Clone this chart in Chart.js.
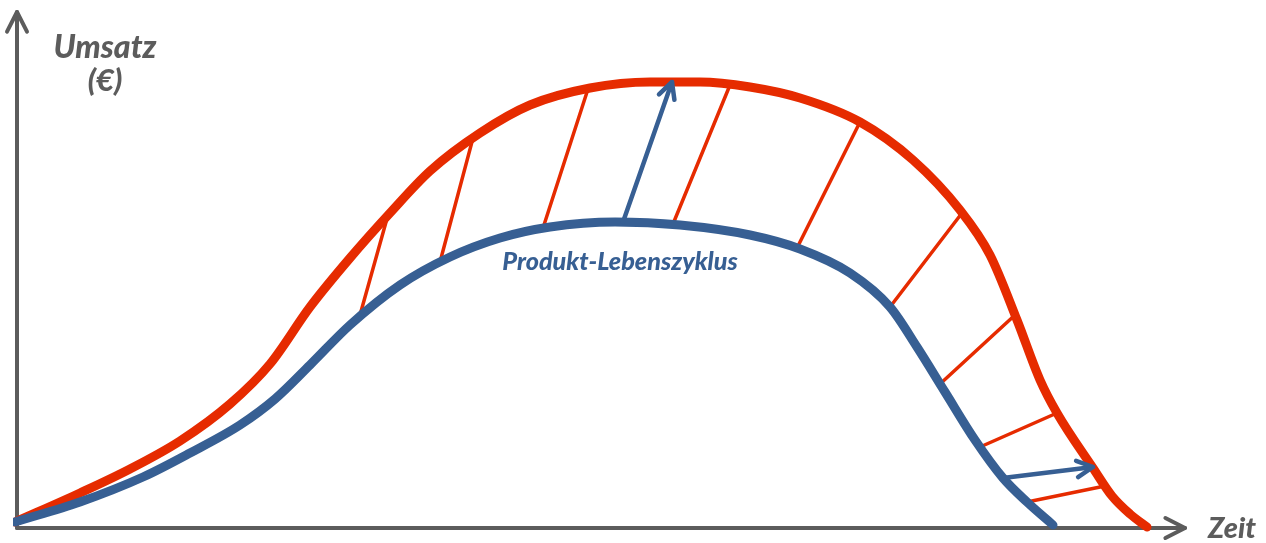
<!DOCTYPE html>
<html>
<head>
<meta charset="utf-8">
<script src="https://cdn.jsdelivr.net/npm/chart.js@4.4.1/dist/chart.umd.min.js"></script>
<style>
  html, body { margin: 0; padding: 0; background: #ffffff; }
  #wrap { width: 1266px; height: 543px; }
</style>
</head>
<body>
<div id="wrap"><canvas id="plc"></canvas></div>
<script>
// Umsatz-Kurven (Zeit, Umsatz)
const redX  = [0, 65, 115, 165, 215, 255, 295, 335, 375, 415, 465, 515, 575, 635, 685, 735, 785, 845, 898, 945, 975, 1002, 1025, 1042, 1078, 1097, 1115, 1132];
const redY  = [1, 30, 54, 82, 119, 159, 216, 265, 310, 352, 390, 418, 435, 441, 441, 436, 425, 401, 363, 313, 268, 203, 143, 110, 55, 27, 9, -4];
const blueX = [0, 65, 128, 175, 225, 260, 295, 335, 385, 435, 485, 535, 600, 665, 735, 785, 835, 875, 902, 930, 960, 988, 1012, 1038];
const blueY = [1, 21, 46, 70, 98, 124, 158, 198, 238, 266, 285, 296, 301, 298, 288, 274, 250, 216, 176, 131, 83, 45, 21, -2];

// Schraffur zwischen den Kurven
const hatchFromX = [345, 425, 528, 658, 782, 875, 925, 965, 1012];
const hatchFromY = [208, 261, 295, 299, 275, 216, 139, 76, 21];
const hatchToX   = [373, 458, 573, 715, 845, 947, 1000, 1042, 1090];
const hatchToY   = [308, 385, 434, 438, 401, 310, 208, 110, 37];

// Pfeile
const arrowFromX = [608, 988];
const arrowFromY = [301, 45];
const arrowToX   = [657, 1078];
const arrowToY   = [441, 56];

// Achsen
const axisOrigin = { x: 2, y: -5 };
const axisTopY = 511;
const axisEndX = 1170;

const RED = "#e62b00";
const BLUE = "#375f93";
const GREY = "#5c5c5c";

function pts(xs, ys) {
    return xs.map((x, i) => ({ x: x, y: ys[i] }));
}

const datasets = [];

datasets.push({
    data: [axisOrigin, { x: axisOrigin.x, y: axisTopY }],
    borderColor: GREY, borderWidth: 4, order: 5, arrowHead: 22, tension: 0
});
datasets.push({
    data: [axisOrigin, { x: axisEndX, y: axisOrigin.y }],
    borderColor: GREY, borderWidth: 4, order: 5, arrowHead: 22, tension: 0
});

hatchFromX.forEach((x, i) => {
    datasets.push({
        data: [{ x: x, y: hatchFromY[i] }, { x: hatchToX[i], y: hatchToY[i] }],
        borderColor: RED, borderWidth: 3.5, order: 4, tension: 0
    });
});

datasets.push({
    label: "Umsatz neu",
    data: pts(redX, redY),
    borderColor: RED, borderWidth: 9, order: 2,
    cubicInterpolationMode: "monotone"
});
datasets.push({
    label: "Produkt-Lebenszyklus",
    data: pts(blueX, blueY),
    borderColor: BLUE, borderWidth: 9, order: 1,
    cubicInterpolationMode: "monotone"
});

arrowFromX.forEach((x, i) => {
    datasets.push({
        data: [{ x: x, y: arrowFromY[i] }, { x: arrowToX[i], y: arrowToY[i] }],
        borderColor: BLUE, borderWidth: 4.5, order: 0, arrowHead: 18, tension: 0
    });
});

const labels = [
    { text: "Umsatz", x: 90, y: 465, size: 32, color: GREY },
    { text: "(€)", x: 90, y: 432, size: 31, color: GREY },
    { text: "Zeit", x: 1217, y: -15, size: 29, color: GREY },
    { text: "Produkt-Lebenszyklus", x: 605, y: 253, width: 236, color: BLUE }
];

const overlay = {
    id: "overlay",
    afterDatasetsDraw(chart) {
        const ctx = chart.ctx;
        ctx.save();
        chart.data.datasets.forEach((ds, i) => {
            if (!ds.arrowHead) return;
            const p = chart.getDatasetMeta(i).data;
            const a = p[p.length - 2], b = p[p.length - 1];
            const ang = Math.atan2(b.y - a.y, b.x - a.x);
            const spread = 27 * Math.PI / 180;
            ctx.strokeStyle = ds.borderColor;
            ctx.lineWidth = ds.borderWidth;
            ctx.lineCap = "round";
            ctx.lineJoin = "round";
            ctx.beginPath();
            ctx.moveTo(b.x - ds.arrowHead * Math.cos(ang - spread), b.y - ds.arrowHead * Math.sin(ang - spread));
            ctx.lineTo(b.x, b.y);
            ctx.lineTo(b.x - ds.arrowHead * Math.cos(ang + spread), b.y - ds.arrowHead * Math.sin(ang + spread));
            ctx.stroke();
        });

        const xs = chart.scales.x, ys = chart.scales.y;
        ctx.textAlign = "center";
        ctx.textBaseline = "alphabetic";
        labels.forEach(l => {
            let size = l.size || 24;
            ctx.font = "italic 900 " + size + "px Lato";
            if (l.width) {
                size = size * l.width / ctx.measureText(l.text).width;
                ctx.font = "italic 900 " + size.toFixed(1) + "px Lato";
            }
            ctx.fillStyle = l.color;
            ctx.fillText(l.text, xs.getPixelForValue(l.x), ys.getPixelForValue(l.y));
        });
        ctx.restore();
    }
};

new Chart(document.getElementById("plc"), {
    type: "line",
    data: { datasets: datasets },
    options: {
        responsive: true,
        maintainAspectRatio: false,
        animation: false,
        events: [],
        layout: { padding: { left: 13, right: 61, top: 0, bottom: 10 } },
        elements: {
            point: { radius: 0 },
            line: { borderCapStyle: "round", borderJoinStyle: "round", fill: false }
        },
        scales: {
            x: { type: "linear", min: -2, max: 1190, display: false },
            y: { type: "linear", min: -10, max: 523, display: false }
        },
        plugins: {
            legend: { display: false },
            tooltip: { enabled: false }
        }
    },
    plugins: [overlay]
});
</script>
</body>
</html>
